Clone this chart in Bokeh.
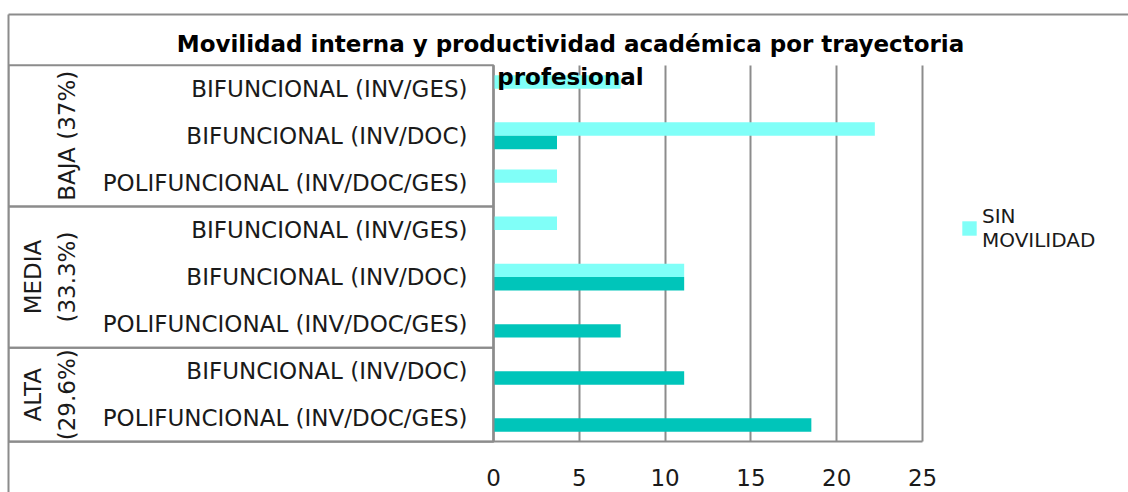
from bokeh.plotting import figure
from bokeh.models import (FactorRange, Range1d, ColumnDataSource, Label, Legend,
                          LegendItem, LinearAxis, FixedTicker, BoxAnnotation)
from bokeh.transform import dodge
from bokeh.embed import file_html
from bokeh.resources import INLINE

# ---- data (bottom to top, as drawn) ----
grupos = ["ALTA\n(29.6%)", "MEDIA\n(33.3%)", "BAJA (37%)"]
tam_grupo = [2, 3, 3]
trayectoria = ["POLIFUNCIONAL (INV/DOC/GES)", "BIFUNCIONAL (INV/DOC)",
               "POLIFUNCIONAL (INV/DOC/GES)", "BIFUNCIONAL (INV/DOC)", "BIFUNCIONAL (INV/GES)",
               "POLIFUNCIONAL (INV/DOC/GES)", "BIFUNCIONAL (INV/DOC)", "BIFUNCIONAL (INV/GES)"]
con_movilidad = [18.52, 11.11, 7.41, 11.11, 0.0, 0.0, 3.70, 0.0]
sin_movilidad = [0.0, 0.0, 0.0, 11.11, 3.70, 3.70, 22.22, 7.41]
x_ticks = [0, 5, 10, 15, 20, 25]
title_text = "Movilidad interna y productividad académica por trayectoria\nprofesional"
legend_label = "SIN\nMOVILIDAD"

nivel = [g for g, n in zip(grupos, tam_grupo) for _ in range(n)]
factors = list(zip(nivel, trayectoria))
# blank spacer rows above / below the real categories (room for title and axis)
all_factors = [(" ", " ")] + factors + [("  ", "  ")]
source = ColumnDataSource(dict(cat=factors, con=con_movilidad, sin=sin_movilidad))

# group boundaries in synthetic category units (spacer row is first)
bounds = [1]
for n in tam_grupo:
    bounds.append(bounds[-1] + n)
PAD = 0.075

FONT = "DejaVu Sans"
GRAY = "#8c8c8c"
CYAN = "#80FFF8"
TEAL = "#00C5BA"
TXT = "#1a1a1a"

p = figure(width=1128, height=492, output_backend="svg", toolbar_location=None,
           y_range=FactorRange(*all_factors, factor_padding=0, group_padding=0,
                               range_padding=PAD, range_padding_units="absolute"),
           x_range=Range1d(-28.26, 37.0),
           min_border_left=8, min_border_right=0, min_border_top=14, min_border_bottom=0)
p.outline_line_color = None
p.background_fill_color = "white"
p.border_fill_color = "white"

r_sin = p.hbar(y=dodge("cat", 0.1425, range=p.y_range), right="sin", left=0, height=0.285,
               source=source, fill_color=CYAN, line_color=None)
r_con = p.hbar(y=dodge("cat", -0.1425, range=p.y_range), right="con", left=0, height=0.285,
               source=source, fill_color=TEAL, line_color=None)

# table boxes around each group of category labels
for lo, hi in zip(bounds[:-1], bounds[1:]):
    p.add_layout(BoxAnnotation(left=p.x_range.start, right=0, bottom=lo, top=hi,
                               fill_color=None, fill_alpha=0, line_color=GRAY,
                               line_alpha=1.0, line_width=2, level="underlay"))

# x axis, fixed at the bottom of the categories
xa = p.xaxis[0]
xa.fixed_location = bounds[0]
xa.bounds = (p.x_range.start, x_ticks[-1])
xa.ticker = x_ticks
xa.axis_line_color = GRAY
xa.axis_line_width = 2
xa.major_tick_line_color = None
xa.minor_tick_line_color = None
xa.major_label_text_font = FONT
xa.major_label_text_font_size = "23px"
xa.major_label_text_color = TXT
xa.major_label_standoff = 21

p.xgrid.ticker = x_ticks
p.xgrid.cross_bounds = (bounds[0], bounds[-1])
p.xgrid.grid_line_color = GRAY
p.xgrid.grid_line_width = 2
p.ygrid.visible = False

# y axis (nested categories), fixed at x = 0
ya = p.yaxis[0]
ya.fixed_location = 0
ya.bounds = (bounds[0], bounds[-1])
ya.axis_line_color = GRAY
ya.axis_line_width = 2
ya.major_tick_line_color = None
ya.minor_tick_line_color = None
ya.major_label_text_font = FONT
ya.major_label_text_font_size = "23px"
ya.major_label_text_color = TXT
ya.major_label_standoff = 20
ya.group_text_font = FONT
ya.group_text_font_size = "23px"
ya.group_text_color = TXT
ya.group_text_font_style = "normal"
ya.group_text_line_height = 1.3
ya.separator_line_color = None

# chart border (left and top) as bare axis lines
for side in ("left", "above"):
    b = LinearAxis(ticker=FixedTicker(ticks=[]), major_tick_in=0, major_tick_out=0,
                   minor_tick_line_color=None, major_label_standoff=0,
                   axis_line_color=GRAY, axis_line_width=2)
    p.add_layout(b, side)

# title
p.add_layout(Label(x=562, y=462, x_units="screen", y_units="screen", text=title_text,
                   text_align="center", text_baseline="top", text_font=FONT,
                   text_font_style="bold", text_font_size="23px", text_line_height=1.3,
                   text_color="black"))

legend = Legend(items=[LegendItem(label=legend_label, renderers=[r_sin])],
                location=(952, 240), padding=0, glyph_width=18, glyph_height=18,
                label_standoff=4, border_line_color=None, background_fill_alpha=0,
                label_text_font=FONT, label_text_font_size="20px", label_text_color=TXT)
p.add_layout(legend, "center")

open("out.html", "w").write(file_html(p, INLINE))
